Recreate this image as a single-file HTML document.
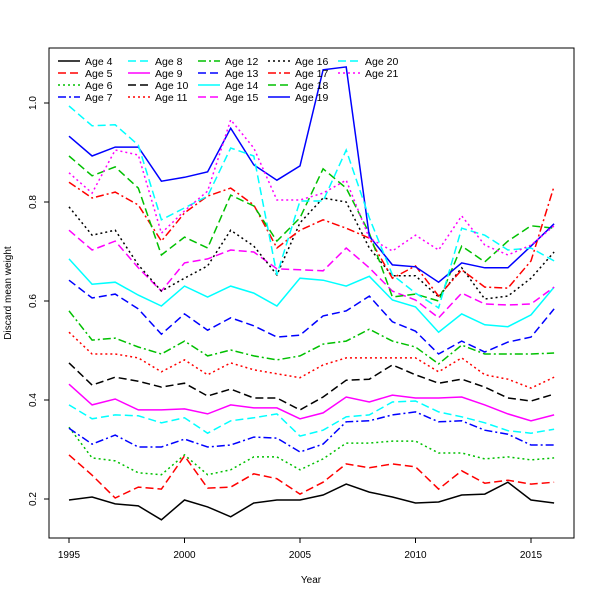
<!DOCTYPE html>
<html><head><meta charset="utf-8"><style>
html,body{margin:0;padding:0;background:#fff;}
svg{display:block;font-family:"Liberation Sans","DejaVu Sans",sans-serif;}
</style></head><body>
<svg id="chart" width="600" height="600" viewBox="0 0 600 600">
<rect x="0" y="0" width="600" height="600" fill="#fff"/>
<g id="plot"></g>
<g id="axes"></g>
<g id="legend"></g>
<text x="311" y="583" font-size="10" text-anchor="middle">Year</text>
<text x="11" y="293" font-size="10" text-anchor="middle" transform="rotate(-90 11 293)">Discard mean weight</text>
</svg>
<script>
const years = [1995,1996,1997,1998,1999,2000,2001,2002,2003,2004,2005,2006,2007,2008,2009,2010,2011,2012,2013,2014,2015,2016];
const seriesNames = ["Age 4","Age 5","Age 6","Age 7","Age 8","Age 9","Age 10","Age 11","Age 12","Age 13","Age 14","Age 15","Age 16","Age 17","Age 18","Age 19","Age 20","Age 21"];
const age4 = [0.198,0.204,0.19,0.186,0.158,0.198,0.184,0.164,0.192,0.198,0.198,0.208,0.23,0.214,0.204,0.192,0.194,0.208,0.21,0.234,0.198,0.192];
const age5 = [0.289,0.248,0.202,0.224,0.220,0.287,0.222,0.224,0.251,0.241,0.210,0.234,0.271,0.263,0.271,0.265,0.220,0.257,0.232,0.238,0.230,0.234];
const age6 = [0.345,0.283,0.277,0.253,0.249,0.289,0.249,0.259,0.285,0.285,0.259,0.281,0.313,0.313,0.317,0.317,0.293,0.293,0.281,0.285,0.279,0.283];
const age7 = [0.343,0.311,0.329,0.305,0.305,0.321,0.305,0.309,0.325,0.323,0.295,0.311,0.356,0.358,0.370,0.376,0.356,0.358,0.339,0.331,0.309,0.309];
const age8 = [0.390,0.362,0.370,0.368,0.354,0.364,0.333,0.358,0.364,0.372,0.327,0.339,0.366,0.370,0.396,0.398,0.376,0.366,0.354,0.338,0.333,0.341];
const age9 = [0.432,0.390,0.402,0.380,0.380,0.382,0.372,0.390,0.384,0.384,0.362,0.374,0.406,0.396,0.410,0.404,0.404,0.406,0.390,0.372,0.358,0.370];
const age10 = [0.475,0.430,0.446,0.438,0.426,0.434,0.408,0.422,0.404,0.404,0.380,0.406,0.440,0.442,0.471,0.451,0.434,0.442,0.426,0.404,0.398,0.412];
const age11 = [0.537,0.493,0.493,0.485,0.457,0.481,0.451,0.475,0.461,0.453,0.445,0.471,0.485,0.485,0.485,0.485,0.457,0.485,0.451,0.442,0.424,0.446];
const age12 = [0.580,0.521,0.525,0.507,0.493,0.519,0.489,0.501,0.489,0.481,0.489,0.513,0.519,0.543,0.519,0.507,0.473,0.511,0.493,0.493,0.493,0.495];
const age13 = [0.642,0.606,0.614,0.584,0.533,0.574,0.541,0.566,0.550,0.527,0.531,0.570,0.580,0.610,0.558,0.539,0.493,0.519,0.497,0.517,0.527,0.584];
const age14 = [0.685,0.634,0.638,0.612,0.590,0.630,0.608,0.630,0.616,0.590,0.646,0.642,0.630,0.650,0.602,0.588,0.537,0.574,0.552,0.548,0.572,0.628];
const age15 = [0.743,0.703,0.721,0.667,0.620,0.677,0.685,0.703,0.699,0.665,0.663,0.661,0.707,0.667,0.620,0.602,0.566,0.616,0.594,0.592,0.594,0.628];
const age16 = [0.790,0.733,0.743,0.673,0.620,0.646,0.671,0.743,0.711,0.653,0.758,0.808,0.800,0.707,0.651,0.651,0.608,0.667,0.604,0.610,0.646,0.699];
const age17 = [0.840,0.808,0.820,0.794,0.721,0.778,0.812,0.828,0.794,0.707,0.743,0.764,0.747,0.727,0.646,0.671,0.610,0.663,0.628,0.626,0.681,0.832];
const age18 = [0.893,0.853,0.871,0.828,0.693,0.729,0.707,0.814,0.792,0.721,0.768,0.867,0.828,0.737,0.608,0.614,0.600,0.711,0.679,0.721,0.752,0.747];
const age19 = [0.933,0.893,0.911,0.911,0.842,0.850,0.861,0.949,0.875,0.844,0.873,1.067,1.073,0.731,0.673,0.669,0.638,0.677,0.667,0.667,0.711,0.756];
const age20 = [0.994,0.954,0.956,0.915,0.764,0.788,0.812,0.909,0.893,0.653,0.802,0.802,0.905,0.768,0.653,0.616,0.586,0.747,0.733,0.703,0.707,0.681];
const age21 = [0.859,0.818,0.905,0.895,0.737,0.782,0.822,0.966,0.909,0.804,0.804,0.818,0.844,0.727,0.701,0.733,0.703,0.772,0.713,0.693,0.713,0.752];
const xTicks = [1995,2000,2005,2010,2015];
const yTicks = [0.2,0.4,0.6,0.8,1.0];
const yTickLabels = ["0.2","0.4","0.6","0.8","1.0"];

const allSeries = [age4,age5,age6,age7,age8,age9,age10,age11,age12,age13,age14,age15,age16,age17,age18,age19,age20,age21];
const colors = ["#000","#ff0000","#00c000","#0000ff","#00ffff","#ff00ff"];
const dashes = ["", "8,4", "2,3", "8,3,2,3", "8,4"];
const NS = "http://www.w3.org/2000/svg";
const L=49,T=48,R=574,B=538;
function xScale(yr){ return 69 + (yr-1995)*(531-69)/20; }
function yScale(v){ return 499 - (v-0.2)*(396/0.8); }
function mk(tag, attrs, parent){ const e=document.createElementNS(NS,tag); for(const k in attrs) e.setAttribute(k,attrs[k]); parent.appendChild(e); return e; }

const plot=document.getElementById('plot');
allSeries.forEach((vals,i)=>{
  const d = vals.map((v,j)=>(j?'L':'M')+xScale(years[j]).toFixed(1)+','+yScale(v).toFixed(1)).join(' ');
  const p = mk('path',{d:d,fill:'none',stroke:colors[i%6],'stroke-width':1.5,'stroke-dasharray':dashes[i%5]},plot);
  
  
});

const axes=document.getElementById('axes');
const frame = mk('rect',{x:L,y:T,width:R-L,height:B-T,fill:'none',stroke:'#000','stroke-width':1},axes);


xTicks.forEach(t=>{
  const x=xScale(t);
  const tk=mk('line',{x1:x,y1:B,x2:x,y2:B+5,stroke:'#000'},axes);
  
  
  const lb=mk('text',{x:x,y:B+20,'font-size':10,'text-anchor':'middle'},axes);
  lb.textContent=t;
  
  
});
yTicks.forEach((t,i)=>{
  const y=yScale(t);
  const tk=mk('line',{x1:L-5,y1:y,x2:L,y2:y,stroke:'#000'},axes);
  
  
  const lb=mk('text',{x:36,y:y,'font-size':10,'text-anchor':'middle',transform:'rotate(-90 36 '+y+')'},axes);
  lb.textContent=yTickLabels[i];
  
  
});

const leg=document.getElementById('legend');
const colX=[58,128,198,268,338];
seriesNames.forEach((n,i)=>{
  const c=Math.floor(i/4), r=i%4;
  const x=colX[c], y=61+r*12;
  const g=mk('g',{},leg);
  
  
  mk('line',{x1:x,y1:y,x2:x+22,y2:y,stroke:colors[i%6],'stroke-width':1.5,'stroke-dasharray':dashes[i%5]},g);
  const t=mk('text',{x:x+27,y:y+4,'font-size':10.5},g);
  t.textContent=n;
});
</script>
</body></html>
